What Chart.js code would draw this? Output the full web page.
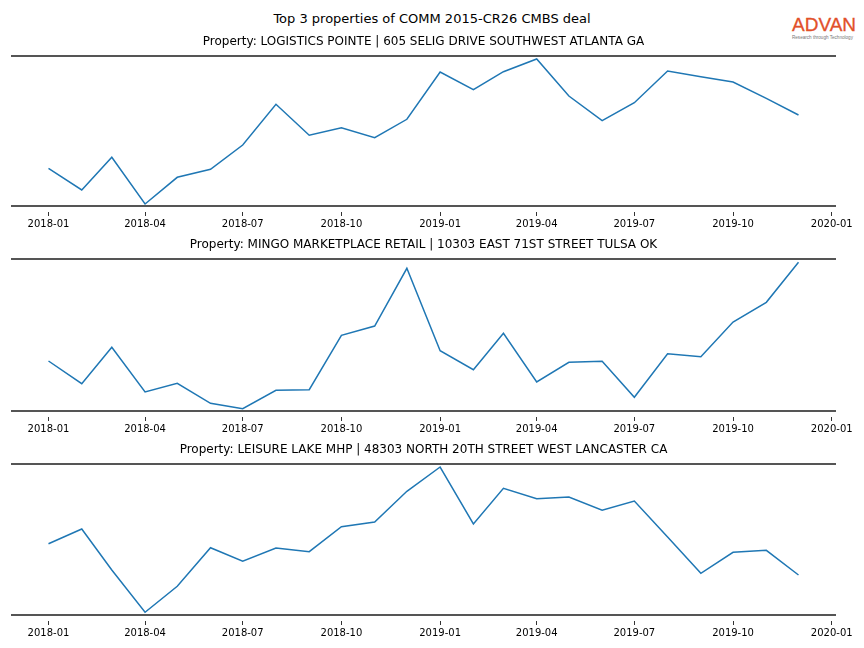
<!DOCTYPE html>
<html>
<head>
<meta charset="utf-8">
<script src="https://cdn.jsdelivr.net/npm/chart.js@4"></script>
<style>
  body { margin: 0; background: #fff; width: 864px; height: 648px; position: relative; overflow: hidden; font-family: "DejaVu Sans", sans-serif; }
  #title { position: absolute; top: 10px; left: 0; width: 864px; text-align: center; font-size: 13px; line-height: 18px; color: #000; }
  canvas { position: absolute; left: 0; }
  #logo { position: absolute; left: 792px; top: 16px; width: 70px; font-family: "Liberation Sans", Arial, sans-serif; }
  #logo .adv { font-size: 19px; line-height: 18px; color: #e2502a; letter-spacing: 0px; -webkit-text-stroke: 0.3px #e2502a; }
  #logo .tag { font-size: 4.6px; line-height: 6px; color: #777; white-space: nowrap; margin-top: 1px; }
</style>
</head>
<body>
<div id="title">Top 3 properties of COMM 2015-CR26 CMBS deal</div>
<div id="logo"><div class="adv">ADVAN</div><div class="tag">Research through Technology</div></div>
<canvas id="c1" width="864"></canvas>
<canvas id="c2" width="864"></canvas>
<canvas id="c3" width="864"></canvas>
<script>
// monthly observations
months = ["2018-01","2018-02","2018-03","2018-04","2018-05","2018-06","2018-07","2018-08","2018-09","2018-10","2018-11","2018-12",
          "2019-01","2019-02","2019-03","2019-04","2019-05","2019-06","2019-07","2019-08","2019-09","2019-10","2019-11","2019-12"];
tickLabels = ["2018-01","2018-04","2018-07","2018-10","2019-01","2019-04","2019-07","2019-10","2020-01"];

// relative activity (no y scale shown on the original)
logistics = [37.7, 16, 48.7, 2, 28.7, 36.7, 61, 101.7, 70.7, 78.3, 68.3, 86.7,
             134, 116.3, 134.3, 147, 110, 85.3, 103.3, 135, 129.3, 124, 107.7, 91];
mingo = [50, 27.3, 63.7, 19, 27.7, 7.7, 2.3, 20.7, 21.3, 75.7, 85, 142.7,
         60.3, 41.3, 77.7, 29, 48.7, 49.7, 13.7, 57.3, 54.3, 89, 108.7, 148.7];
leisure = [71.3, 86, 45, 2.7, 28.7, 67.3, 53.7, 67, 63.3, 88.3, 93, 123.7,
           148, 91, 126.7, 116.3, 118, 104.7, 114, 78, 41.7, 62.7, 64.7, 40];

titles = ["Property: LOGISTICS POINTE | 605 SELIG DRIVE SOUTHWEST ATLANTA GA",
          "Property: MINGO MARKETPLACE RETAIL | 10303 EAST 71ST STREET TULSA OK",
          "Property: LEISURE LAKE MHP | 48303 NORTH 20TH STREET WEST LANCASTER CA"];
yMax = [150, 152, 151];

function toTime(s) {
    p = s.split("-");
    return Date.UTC(+p[0], +p[1] - 1, 1);
}
xs = months.map(toTime);
span = xs[xs.length - 1] - xs[0];
xMin = xs[0] - 0.05 * span;
xMax = xs[xs.length - 1] + 0.05 * span;

function fmt(v) {
    d = new Date(v);
    m = d.getUTCMonth() + 1;
    return d.getUTCFullYear() + "-" + (m < 10 ? "0" + m : m);
}

var spines = {
    id: "spines",
    afterDatasetsDraw(chart) {
        a = chart.chartArea;
        ctx = chart.ctx;
        ctx.save();
        ctx.strokeStyle = "#555";
        ctx.lineWidth = 2;
        ctx.beginPath();
        ctx.moveTo(a.left, a.top); ctx.lineTo(a.right, a.top);
        ctx.moveTo(a.left, a.bottom); ctx.lineTo(a.right, a.bottom);
        ctx.stroke();
        ctx.restore();
    }
};

spineTops = [56, 259, 464];
titleBlock = 21;
axisBlock = 30;
series = [logistics, mingo, leisure];

for (i = 0; i < 3; i++) {
    cv = document.getElementById("c" + (i + 1));
    cv.height = titleBlock + yMax[i] + axisBlock;
    cv.style.top = (spineTops[i] - titleBlock) + "px";
    vals = series[i];
    new Chart(cv, {
        type: "line",
        data: {
            datasets: [{
                data: xs.map((x, k) => ({x: x, y: vals[k]})),
                borderColor: "#1f77b4",
                borderWidth: 1.5,
                pointRadius: 0,
                tension: 0,
                fill: false
            }]
        },
        plugins: [spines],
        options: {
            responsive: false,
            animation: false,
            devicePixelRatio: 1,
            layout: {padding: {left: 11, right: 28, top: 0, bottom: 0}},
            plugins: {
                legend: {display: false},
                tooltip: {enabled: false},
                title: {
                    display: true,
                    text: titles[i],
                    color: "#000",
                    font: {family: "DejaVu Sans", size: 12, weight: "normal"},
                    padding: {top: 0, bottom: 6.6}
                }
            },
            scales: {
                x: {
                    type: "linear",
                    min: xMin,
                    max: xMax,
                    afterFit: s => { s.height = axisBlock; },
                    afterBuildTicks: s => { s.ticks = tickLabels.map(t => ({value: toTime(t)})); },
                    border: {display: false},
                    grid: {
                        drawOnChartArea: false,
                        drawTicks: true,
                        tickLength: 10,
                        tickColor: "#333",
                        tickWidth: 1,
                        tickBorderDash: [4, 6],
                        tickBorderDashOffset: 4
                    },
                    ticks: {
                        autoSkip: false,
                        maxRotation: 0,
                        padding: 2,
                        color: "#000",
                        font: {family: "DejaVu Sans", size: 10},
                        callback: v => fmt(v)
                    }
                },
                y: {display: false, min: 0, max: yMax[i]}
            }
        }
    });
}
</script>
</body>
</html>
